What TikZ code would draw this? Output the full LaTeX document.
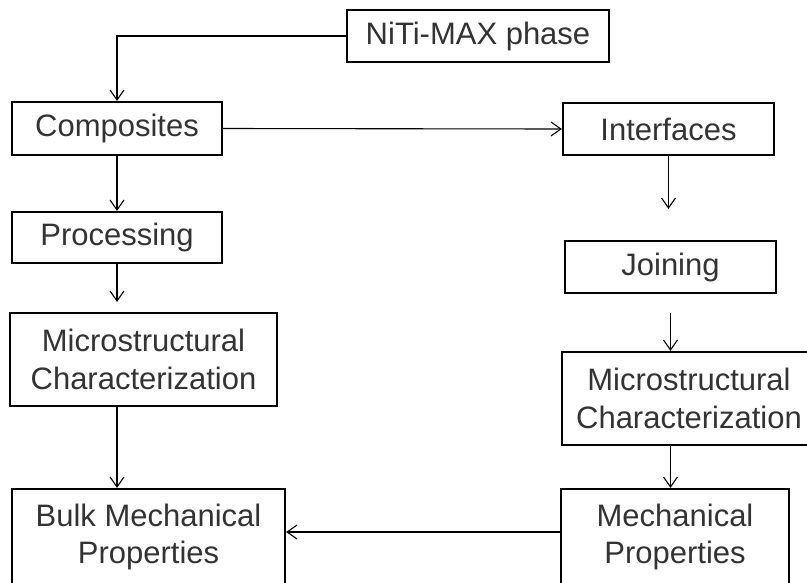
\documentclass[tikz,border=0pt]{standalone}
\usepackage{fontspec}
\setmainfont{Liberation Sans}
\usetikzlibrary{arrows.meta}
\tikzset{
  box/.style={draw, line width=2.2pt, align=center, inner sep=0pt, text=black!80,
    font=\fontsize{31}{37.5}\selectfont},
  link/.style={line width=1.1pt, -{Straight Barb[length=10pt,width=14pt,line width=1.1pt]}}
}
\begin{document}
\begin{tikzpicture}[x=1pt,y=-1pt]
    \useasboundingbox (0,0) rectangle (807,582);
    \clip (0,0) rectangle (807,582); % page frame
    % boxes
    \node[box, minimum width=262pt, minimum height=52pt] (niti) at (478,36) {NiTi-MAX phase};
    \node[box, minimum width=210pt, minimum height=53pt] (comp) at (117,128.5) {Composites};
    \node[box, minimum width=211pt, minimum height=52pt] (inter) at (668.5,129) {Interfaces};
    \node[box, minimum width=210pt, minimum height=51pt] (proc) at (117,237.5) {Processing};
    \node[box, minimum width=211pt, minimum height=52pt] (join) at (670.5,267) {Joining};
    \node[box, minimum width=267pt, minimum height=93pt] (microL) at (143.5,359.5) {Microstructural\\Characterization};
    \node[box, minimum width=254pt, minimum height=93pt] (microR) at (689,398.5) {Microstructural\\Characterization};
    \node[box, minimum width=273pt, minimum height=96pt] (bulk) at (148.5,537) {Bulk Mechanical\\Properties};
    \node[box, minimum width=228pt, minimum height=96pt] (mech) at (675,537) {Mechanical\\Properties};
    % arrows
    \draw[link] (niti.west) -| (comp.north); % top branch
    \draw[link] (comp.east) -- (inter.west);
    \draw[link] (comp.south) -- (proc.north);
    \draw[link, shorten >=10pt] (proc.south) -- (proc.south |- microL.north);
    \draw[link] (proc.south |- microL.south) -- (proc.south |- bulk.north);
    \draw[link, shorten >=31pt] (inter.south) -- (inter.south |- join.north);
    \draw[link, shorten <=19pt] (join.south) -- (join.south |- microR.north);
    \draw[link] (join.south |- microR.south) -- (join.south |- mech.north);
    \draw[link] ([yshift=5pt]mech.west) -- ([yshift=5pt]bulk.east); % back to bulk
\end{tikzpicture}
\end{document}
